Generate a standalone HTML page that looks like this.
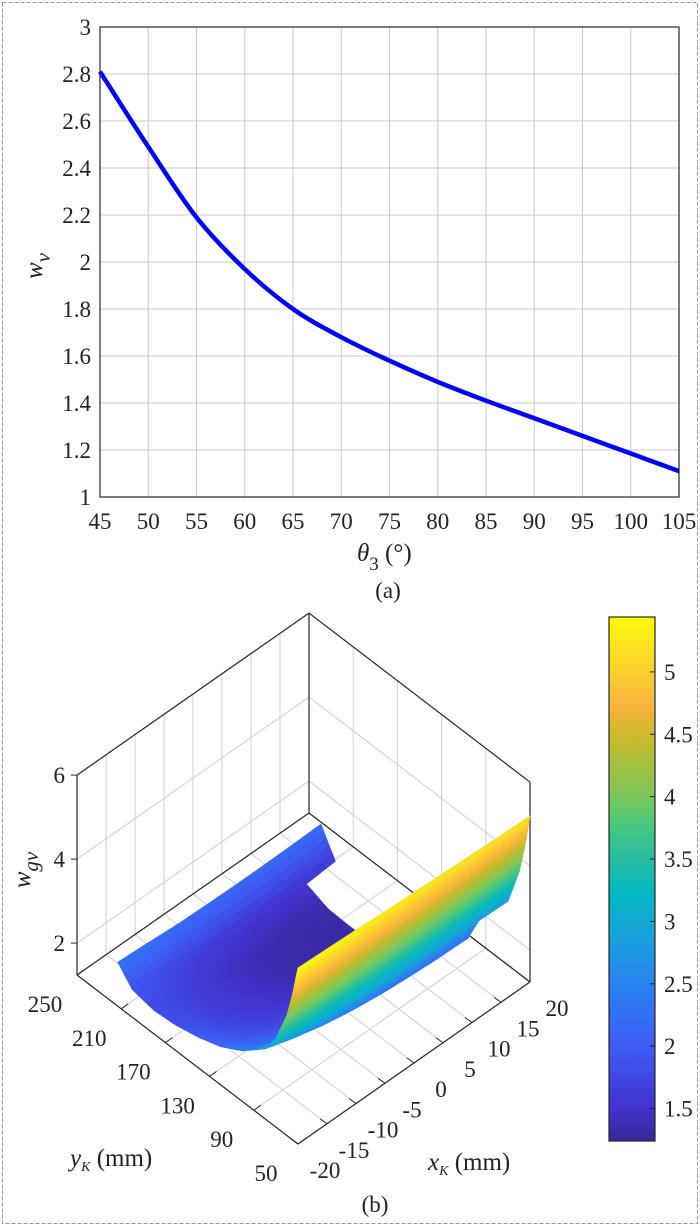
<!DOCTYPE html>
<html><head><meta charset="utf-8">
<style>
html,body{margin:0;padding:0;background:#fff;}
#wrap{position:relative;width:700px;height:1226px;overflow:hidden;font-family:"Liberation Serif","Times New Roman",Times,serif;}
svg{position:absolute;left:0;top:0;}
svg text, svg tspan{font-family:"Liberation Serif","Times New Roman",Times,serif !important;}
</style></head>
<body>
<div id="wrap">
<svg id="fig" width="700" height="1226" viewBox="0 0 700 1226" font-family="Liberation Serif, Times New Roman, serif">
<rect x="2.5" y="2.5" width="695" height="1221" fill="none" stroke="#999" stroke-dasharray="4,2"/>
<g id="topChart" font-family="Liberation Serif, serif"></g>
<g id="botChart" font-family="Liberation Serif, serif"></g>
</svg>
</div>
<script>
// ---------- Chart (a) data ----------
const thetaVals = [45,50,55,60,65,70,75,80,85,90,95,100,105];
const wvVals = [2.81,2.49,2.19,1.97,1.80,1.68,1.58,1.49,1.41,1.335,1.26,1.185,1.11];
const xTicksA = [45,50,55,60,65,70,75,80,85,90,95,100,105];
const yTicksA = [1,1.2,1.4,1.6,1.8,2,2.2,2.4,2.6,2.8,3];
const yTickLabelsA = ["1","1.2","1.4","1.6","1.8","2","2.2","2.4","2.6","2.8","3"];

// ---------- Chart (b) data ----------
const xGrid = [-20,-15,-10,-5,0,5,10,15,20];
const yGrid = [50,55,60,70,80,100,120,140,160,180,200,213];
const wRow50  = [5.43,5.40,5.37,5.33,5.30,5.27,5.24,5.21,5.19];
const wRow55  = [4.70,4.62,4.55,4.50,4.45,4.42,4.38,4.35,4.33];
const wRow60  = [4.10,4.00,3.90,3.83,3.77,3.73,3.70,3.67,3.65];
const wRow70  = [3.35,3.18,3.05,2.95,2.88,2.83,2.80,2.78,2.76];
const wRow80  = [2.90,2.68,2.50,2.37,2.28,2.22,2.18,2.16,null];
const wRow100 = [2.45,2.18,1.97,1.82,1.72,1.65,1.61,null,null];
const wRow120 = [2.15,1.90,1.72,1.59,1.50,1.45,1.42,null,null];
const wRow140 = [1.97,1.75,1.58,1.46,1.38,1.34,1.32,null,null];
const wRow160 = [1.85,1.68,1.52,1.41,1.34,1.31,1.30,null,null];
const wRow180 = [1.80,1.68,1.53,1.42,1.35,1.32,1.32,null,null];
const wRow200 = [1.90,1.80,1.67,1.57,1.52,1.50,1.52,1.58,null];
const wRow213 = [2.29,2.25,2.20,2.18,2.17,2.17,2.18,2.20,null];
const xTicksB = [-20,-15,-10,-5,0,5,10,15,20];
const yTicksB = [50,90,130,170,210,250];
const zTicksB = [2,4,6];
const cbTicks = [1.5,2,2.5,3,3.5,4,4.5,5];
const cbTickLabels = ["1.5","2","2.5","3","3.5","4","4.5","5"];

const NS = "http://www.w3.org/2000/svg";
const FONT = "Liberation Serif, Times New Roman, serif";
function mk(tag, attrs, parent){
  const e = document.createElementNS(NS, tag);
  for (const k in attrs) e.setAttribute(k, attrs[k]);
  if (tag==='text') e.setAttribute('font-family', FONT);
  parent.appendChild(e);
  return e;
}

// ===== Chart (a) =====
(function(){
  const g = document.getElementById('topChart');
  const L=100, R=679, T=27, B=497;
  const xs = v => L + (v-45)/60*(R-L);
  const ys = v => B - (v-1)/2*(B-T);
  mk('rect',{x:L,y:T,width:R-L,height:B-T,fill:'#fff'},g);
  xTicksA.forEach(t=>{
    const l = mk('line',{x1:xs(t),x2:xs(t),y1:T,y2:B,stroke:'#c8c8c8','stroke-width':1},g);
    
    
    const tk = mk('text',{x:xs(t),y:529,'text-anchor':'middle','font-size':23,fill:'#222'},g);
    tk.textContent = t;
    
    
  });
  yTicksA.forEach((t,i)=>{
    const l = mk('line',{x1:L,x2:R,y1:ys(t),y2:ys(t),stroke:'#c8c8c8','stroke-width':1},g);
    
    
    const tk = mk('text',{x:91,y:ys(t)+8,'text-anchor':'end','font-size':23,fill:'#222'},g);
    tk.textContent = yTickLabelsA[i];
    
    
  });
  const box = mk('rect',{x:L,y:T,width:R-L,height:B-T,fill:'none',stroke:'#262626','stroke-width':1.2},g);
  
  
  let pts = thetaVals.map((v,i)=>[xs(v),ys(wvVals[i])]);
  let d = 'M'+pts[0][0]+','+pts[0][1];
  for(let i=0;i<pts.length-1;i++){
    const p0=pts[Math.max(0,i-1)],p1=pts[i],p2=pts[i+1],p3=pts[Math.min(pts.length-1,i+2)];
    const c1=[p1[0]+(p2[0]-p0[0])/6,p1[1]+(p2[1]-p0[1])/6];
    const c2=[p2[0]-(p3[0]-p1[0])/6,p2[1]-(p3[1]-p1[1])/6];
    d+=' C'+c1[0].toFixed(1)+','+c1[1].toFixed(1)+' '+c2[0].toFixed(1)+','+c2[1].toFixed(1)+' '+p2[0].toFixed(1)+','+p2[1].toFixed(1);
  }
  const line = mk('path',{d:d,fill:'none',stroke:'#0000ff','stroke-width':4.5},g);
  
  
  const xt = mk('text',{x:357,y:561,'font-size':25,fill:'#222'},g);
  xt.innerHTML = '<tspan font-style="italic">θ</tspan><tspan font-size="19" dy="9">3</tspan><tspan dy="-9"> (°)</tspan>';
  
  
  const yt = mk('text',{transform:'translate(42,266) rotate(-90)','text-anchor':'middle','font-size':25,fill:'#222'},g);
  yt.innerHTML = '<tspan font-style="italic">w</tspan><tspan font-style="italic" font-size="21" dy="8">v</tspan>';
  
  
  const cap = mk('text',{x:388,y:598,'text-anchor':'middle','font-size':23,fill:'#222'},g);
  cap.textContent='(a)';
  
  
})();

// ===== Chart (b) =====
(function(){
  const g = document.getElementById('botChart');
  const ZMIN=1.24, ZMAX=6, CMIN=1.24, CMAX=5.44;
  function P(x,y,z){
    const fx=(x+20)/40, fy=(y-50)/200;
    return [298 + fx*232 - fy*221, 1144 - fx*162 - fy*169 - (z-ZMIN)*42];
  }
  const stops=[[0,[55,40,150]],[0.06,[66,50,205]],[0.18,[62,92,245]],[0.3,[40,132,240]],[0.42,[20,170,210]],[0.47,[0,185,195]],[0.54,[40,187,160]],[0.6,[70,200,128]],[0.66,[125,200,90]],[0.77,[200,186,42]],[0.83,[250,180,60]],[0.89,[250,205,48]],[1,[249,251,14]]];
  function cmap(v){
    let t=(v-CMIN)/(CMAX-CMIN); t=Math.max(0,Math.min(1,t));
    for(let i=0;i<stops.length-1;i++){
      if(t<=stops[i+1][0]){
        const a=stops[i],b=stops[i+1],u=(t-a[0])/(b[0]-a[0]);
        const c=a[1].map((cv,k)=>Math.round(cv+(b[1][k]-cv)*u));
        return 'rgb('+c.join(',')+')';
      }
    }
    return 'rgb(249,251,14)';
  }
  const pl = (a)=>a.map(p=>p[0].toFixed(1)+','+p[1].toFixed(1)).join(' ');
  const grid='#cfcfcf';
  function gl(a,b,name,col,w){
    const l=mk('line',{x1:a[0],y1:a[1],x2:b[0],y2:b[1],stroke:col||grid,'stroke-width':w||1},g);
    
    
  }
  xTicksB.forEach(t=>{
    if(t>-20&&t<20) gl(P(t,250,ZMIN),P(t,250,ZMAX),'wall-gridline-x');
    gl(P(t,50,ZMIN),P(t,250,ZMIN),'floor-gridline-x');
  });
  yTicksB.forEach(t=>{
    if(t>50&&t<250) gl(P(20,t,ZMIN),P(20,t,ZMAX),'wall-gridline-y');
    gl(P(-20,t,ZMIN),P(20,t,ZMIN),'floor-gridline-y');
  });
  zTicksB.forEach(t=>{
    if(t<ZMAX){ gl(P(-20,250,t),P(20,250,t),'wall-gridline-z'); gl(P(20,250,t),P(20,50,t),'wall-gridline-z'); }
  });
  const dk='#262626';
  gl(P(-20,250,ZMIN),P(20,250,ZMIN),'box-edge',dk,1.2);
  gl(P(20,250,ZMIN),P(20,50,ZMIN),'box-edge',dk,1.2);
  gl(P(20,250,ZMIN),P(20,250,ZMAX),'box-edge',dk,1.2);
  gl(P(-20,250,ZMAX),P(20,250,ZMAX),'box-edge',dk,1.2);
  gl(P(20,250,ZMAX),P(20,50,ZMAX),'box-edge',dk,1.2);
  gl(P(-20,250,ZMIN),P(-20,250,ZMAX),'z-axis-line',dk,1.2);
  gl(P(20,50,ZMIN),P(20,50,ZMAX),'box-edge',dk,1.2);

  const W=[wRow50,wRow55,wRow60,wRow70,wRow80,wRow100,wRow120,wRow140,wRow160,wRow180,wRow200,wRow213];
  const surf = mk('g',{},g);
  
  
  const quads=[];
  const S=5;
  for(let j=0;j<yGrid.length-1;j++){
    for(let i=0;i<xGrid.length-1;i++){
      const v00=W[j][i],v10=W[j][i+1],v01=W[j+1][i],v11=W[j+1][i+1];
      if(v00==null||v10==null||v01==null||v11==null) continue;
      for(let a=0;a<S;a++)for(let b=0;b<S;b++){
        const pt=(u,w)=>{
          const x=xGrid[i]+(xGrid[i+1]-xGrid[i])*u, y=yGrid[j]+(yGrid[j+1]-yGrid[j])*w;
          const z=v00*(1-u)*(1-w)+v10*u*(1-w)+v01*(1-u)*w+v11*u*w;
          return {x,y,z};
        };
        const c=[pt(a/S,b/S),pt((a+1)/S,b/S),pt((a+1)/S,(b+1)/S),pt(a/S,(b+1)/S)];
        const zc=(c[0].z+c[1].z+c[2].z+c[3].z)/4;
        const xc=(c[0].x+c[2].x)/2, yc=(c[0].y+c[2].y)/2;
        const depth=P(xc,yc,ZMIN)[1];
        quads.push({c,zc,depth});
      }
    }
  }
  quads.sort((p,q)=>p.depth-q.depth);
  quads.forEach(q=>{
    const col=cmap(q.zc);
    const poly=mk('polygon',{points:pl(q.c.map(p=>P(p.x,p.y,p.z))),fill:col,stroke:col,'stroke-width':0.8},surf);
    
    
  });

  gl(P(-20,250,ZMIN),P(-20,50,ZMIN),'y-axis-line',dk,1.2);
  gl(P(-20,50,ZMIN),P(20,50,ZMIN),'x-axis-line',dk,1.2);
  const fs=23;
  function txt(x,y,s,anchor,name){
    const t=mk('text',{x:x,y:y,'text-anchor':anchor||'middle','font-size':fs,fill:'#222'},g);
    t.textContent=s;
    
    
    return t;
  }
  yTicksB.forEach(t=>{
    const p=P(-20,t,ZMIN);
    gl(p,[p[0]+7,p[1]-5],'y-tick',dk,1);
    txt(p[0]-32,p[1]+37,String(t),'middle','y-tick-label-b');
  });
  xTicksB.forEach(t=>{
    const p=P(t,50,ZMIN);
    gl(p,[p[0]-7,p[1]-5],'x-tick',dk,1);
    txt(p[0]+27,p[1]+34,String(t),'middle','x-tick-label-b');
  });
  zTicksB.forEach(t=>{
    const p=P(-20,250,t);
    gl(p,[p[0]-6,p[1]],'z-tick',dk,1);
    txt(p[0]-12,p[1]+8,String(t),'end','z-tick-label-b');
  });
  const zt=mk('text',{transform:'translate(30,870) rotate(-90)','text-anchor':'middle','font-size':25,fill:'#222'},g);
  zt.innerHTML='<tspan font-style="italic">w</tspan><tspan font-style="italic" font-size="21" dy="8">gv</tspan>';
  
  
  const yt=mk('text',{x:70,y:1166,'font-size':25,fill:'#222'},g);
  yt.innerHTML='<tspan font-style="italic">y</tspan><tspan font-style="italic" font-size="14" dy="5">K</tspan><tspan dy="-5"> (mm)</tspan>';
  
  
  const xt=mk('text',{x:428,y:1170,'font-size':25,fill:'#222'},g);
  xt.innerHTML='<tspan font-style="italic">x</tspan><tspan font-style="italic" font-size="14" dy="5">K</tspan><tspan dy="-5"> (mm)</tspan>';
  
  
  txt(375,1212,'(b)','middle','caption-b');

  const CL=609, CR=655, CT=617, CB=1141;
  const defs=mk('defs',{},g);
  const lg=mk('linearGradient',{id:'cbg',x1:0,y1:1,x2:0,y2:0},defs);
  stops.forEach(s=>mk('stop',{offset:s[0],'stop-color':'rgb('+s[1].join(',')+')'},lg));
  const cb=mk('rect',{x:CL,y:CT,width:CR-CL,height:CB-CT,fill:'url(#cbg)',stroke:'#262626','stroke-width':1.2},g);
  
  
  const cy=v=>CB-(v-CMIN)/(CMAX-CMIN)*(CB-CT);
  cbTicks.forEach((t,i)=>{
    gl([CR-5,cy(t)],[CR,cy(t)],'colorbar-tick',dk,1);
    txt(664,cy(t)+8,cbTickLabels[i],'start','colorbar-tick-label');
  });
})();
</script>
</body></html>
